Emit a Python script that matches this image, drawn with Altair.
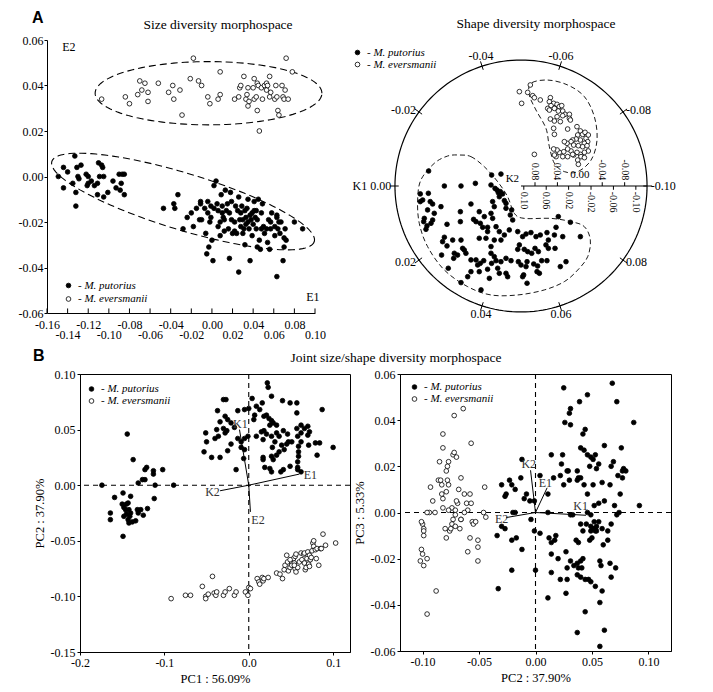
import altair as alt
import numpy as np
import pandas as pd

SERIF = "Liberation Serif"
SANS = "Liberation Sans"
SPECIES = ["M. putorius", "M. eversmanii"]

# ---------------- A (left): size diversity morphospace, E1 x E2 ----------------
SIZE_PUTORIUS = [
    (-0.149, 0.000), (-0.144, 0.004), (-0.144, -0.005), (-0.140, 0.002), (-0.135, -0.003),
    (-0.133, 0.009), (-0.132, -0.007), (-0.131, 0.004), (-0.130, 0.000), (-0.129, -0.001),
    (-0.127, 0.005), (-0.122, 0.001), (-0.121, -0.004), (-0.120, 0.000), (-0.120, -0.003),
    (-0.117, -0.002), (-0.114, -0.004), (-0.111, -0.003), (-0.110, 0.006), (-0.109, 0.000),
    (-0.111, -0.008), (-0.107, 0.005), (-0.106, 0.004), (-0.105, 0.000), (-0.105, -0.009),
    (-0.101, -0.007), (-0.096, -0.002), (-0.093, -0.005), (-0.090, 0.001), (-0.089, -0.006),
    (-0.088, -0.003), (-0.087, 0.001), (-0.085, 0.001), (-0.085, -0.008), (-0.132, -0.013),
    (-0.047, -0.014), (-0.037, -0.012), (-0.036, -0.014), (-0.033, -0.008), (-0.028, -0.023),
    (-0.024, -0.018), (-0.020, -0.016), (-0.018, -0.022), (-0.015, -0.014), (-0.012, -0.019),
    (-0.011, -0.011), (-0.011, -0.012), (-0.010, -0.019), (-0.007, -0.014), (-0.006, -0.025),
    (-0.005, -0.034), (-0.004, -0.011), (-0.004, -0.016), (-0.003, -0.031), (-0.002, -0.020),
    (-0.001, -0.013), (-0.001, -0.018), (0.000, -0.028), (0.001, -0.037), (0.002, -0.004),
    (0.002, -0.014), (0.004, -0.002), (0.005, -0.012), (0.006, -0.015), (0.006, -0.022),
    (0.008, -0.020), (0.008, -0.026), (0.009, -0.008), (0.010, -0.016), (0.010, -0.013),
    (0.011, -0.018), (0.012, -0.024), (0.012, -0.019), (0.013, -0.006), (0.014, -0.015),
    (0.015, -0.012), (0.016, -0.023), (0.017, -0.036), (0.017, -0.016), (0.018, -0.007),
    (0.019, -0.011), (0.019, -0.019), (0.020, -0.025), (0.022, -0.020), (0.022, -0.024),
    (0.023, -0.013), (0.024, -0.025), (0.025, -0.015), (0.026, -0.042), (0.026, -0.009),
    (0.027, -0.019), (0.028, -0.016), (0.028, -0.022), (0.029, -0.013), (0.030, -0.025),
    (0.030, -0.019), (0.031, -0.023), (0.032, -0.015), (0.032, -0.030), (0.033, -0.021),
    (0.033, -0.018), (0.034, -0.014), (0.035, -0.010), (0.035, -0.020), (0.036, -0.023),
    (0.037, -0.017), (0.037, -0.037), (0.038, -0.019), (0.039, -0.016), (0.039, -0.026),
    (0.040, -0.021), (0.041, -0.011), (0.041, -0.015), (0.042, -0.018), (0.043, -0.023),
    (0.043, -0.015), (0.044, -0.019), (0.044, -0.031), (0.045, -0.010), (0.046, -0.028),
    (0.047, -0.032), (0.048, -0.023), (0.048, -0.016), (0.049, -0.012), (0.050, -0.022),
    (0.051, -0.025), (0.053, -0.023), (0.054, -0.029), (0.055, -0.019), (0.056, -0.032),
    (0.057, -0.020), (0.057, -0.023), (0.058, -0.016), (0.061, -0.022), (0.061, -0.026),
    (0.063, -0.018), (0.063, -0.017), (0.064, -0.023), (0.065, -0.020), (0.066, -0.025),
    (0.067, -0.020), (0.069, -0.037), (0.070, -0.027), (0.070, -0.031), (0.071, -0.023),
    (0.072, -0.028), (0.063, -0.044), (0.080, -0.020), (0.088, -0.023),
]
SIZE_EVERSMANII = [
    (-0.107, 0.034), (-0.084, 0.035), (-0.080, 0.032), (-0.072, 0.036), (-0.070, 0.042),
    (-0.065, 0.041), (-0.068, 0.038), (-0.062, 0.037), (-0.062, 0.033), (-0.052, 0.041),
    (-0.042, 0.037), (-0.038, 0.040), (-0.037, 0.034), (-0.031, 0.038), (-0.029, 0.027),
    (-0.021, 0.043), (-0.018, 0.052), (-0.013, 0.042), (-0.010, 0.040), (-0.004, 0.035),
    (-0.002, 0.032), (0.006, 0.034), (0.008, 0.046), (0.008, 0.036), (0.022, 0.034),
    (0.026, 0.035), (0.027, 0.039), (0.028, 0.040), (0.031, 0.044), (0.033, 0.034),
    (0.034, 0.036), (0.035, 0.039), (0.035, 0.031), (0.036, 0.033), (0.040, 0.039),
    (0.041, 0.043), (0.041, 0.034), (0.043, 0.035), (0.044, 0.041), (0.045, 0.040),
    (0.048, 0.039), (0.049, 0.034), (0.051, 0.040), (0.053, 0.041), (0.053, 0.038),
    (0.054, 0.040), (0.056, 0.044), (0.056, 0.035), (0.057, 0.037), (0.061, 0.034),
    (0.062, 0.040), (0.063, 0.035), (0.064, 0.029), (0.065, 0.027), (0.069, 0.035),
    (0.070, 0.034), (0.071, 0.038), (0.072, 0.052), (0.074, 0.034), (0.078, 0.046),
    (0.046, 0.020), (0.044, 0.029), (0.068, 0.040),
]
SIZE_TICKS_E1 = [-0.16, -0.14, -0.12, -0.10, -0.08, -0.06, -0.04, -0.02, 0.00, 0.02, 0.04, 0.06, 0.08, 0.10]
SIZE_TICKS_E2 = [-0.06, -0.04, -0.02, 0.00, 0.02, 0.04, 0.06]
# 95% ellipses: centre and the two half-axis vectors (E1, E2 units)
ELLIPSE_CENTER = {"M. putorius": (-0.028, -0.011), "M. eversmanii": (-0.0033, 0.0366)}
ELLIPSE_AXIS_A = {"M. putorius": (0.1273, -0.0176), "M. eversmanii": (0.110, 0.0)}
ELLIPSE_AXIS_B = {"M. putorius": (-0.0080, -0.0119), "M. eversmanii": (0.0, 0.0139)}

# ---------------- A (right): shape diversity morphospace (K1 angle, K2 radius) ----------------
# positions on the unit disc of the circular plot (disc radius = 1)
SHAPE_PUTORIUS = [
    (-0.733, 0.119), (-0.799, -0.063), (-0.799, -0.124), (-0.780, -0.111), (-0.735, -0.058),
    (-0.720, -0.124), (-0.701, -0.143), (-0.741, -0.190), (-0.767, -0.257), (-0.772, -0.283),
    (-0.746, -0.317), (-0.714, -0.296), (-0.701, -0.270), (-0.754, -0.344), (-0.608, 0.000),
    (-0.476, 0.000), (-0.362, 0.021), (-0.233, 0.087), (-0.159, 0.095), (-0.238, 0.008),
    (-0.206, -0.019), (-0.190, -0.032), (-0.180, -0.053), (-0.164, -0.045), (-0.146, -0.063),
    (-0.172, -0.085), (-0.132, -0.116), (-0.119, -0.138), (-0.119, -0.177), (-0.074, -0.190),
    (-0.085, -0.230), (-0.066, -0.270), (-0.225, -0.124), (-0.212, -0.164), (-0.238, -0.217),
    (-0.225, -0.257), (-0.291, -0.243), (-0.331, -0.204), (-0.376, -0.265), (-0.357, -0.283),
    (-0.323, -0.296), (-0.304, -0.328), (-0.265, -0.328), (-0.265, -0.362), (-0.198, -0.323),
    (-0.172, -0.362), (-0.132, -0.389), (-0.093, -0.349), (-0.159, -0.429), (-0.212, -0.429),
    (-0.238, -0.481), (-0.278, -0.415), (-0.331, -0.415), (-0.397, -0.143), (-0.481, -0.204),
    (-0.481, -0.283), (-0.587, -0.304), (-0.635, -0.164), (-0.688, -0.217), (-0.608, -0.407),
    (-0.622, -0.442), (-0.587, -0.476), (-0.542, -0.429), (-0.476, -0.429), (-0.463, -0.495),
    (-0.450, -0.508), (-0.529, -0.534), (-0.503, -0.548), (-0.534, -0.574), (-0.630, -0.548),
    (-0.437, -0.534), (-0.397, -0.587), (-0.357, -0.587), (-0.323, -0.614), (-0.296, -0.593),
    (-0.344, -0.627), (-0.397, -0.680), (-0.331, -0.680), (-0.238, -0.534), (-0.212, -0.561),
    (-0.198, -0.593), (-0.233, -0.614), (-0.159, -0.601), (-0.119, -0.574), (-0.079, -0.593),
    (-0.119, -0.693), (-0.106, -0.720), (-0.172, -0.693), (-0.185, -0.653), (-0.265, -0.661),
    (-0.251, -0.733), (-0.423, -0.720), (-0.476, -0.767), (-0.577, -0.653), (-0.317, -0.825),
    (0.296, -0.243), (0.392, -0.288), (0.471, -0.402), (0.278, -0.328), (0.265, -0.389),
    (0.331, -0.402), (0.206, -0.370), (0.217, -0.429), (0.153, -0.389), (0.119, -0.402),
    (0.079, -0.370), (0.040, -0.381), (0.013, -0.402), (-0.026, -0.362), (-0.013, -0.468),
    (-0.026, -0.503), (0.026, -0.503), (0.053, -0.521), (0.085, -0.534), (0.111, -0.495),
    (0.138, -0.521), (0.198, -0.468), (0.217, -0.495), (0.270, -0.495), (0.164, -0.593),
    (0.206, -0.593), (0.357, -0.601), (0.312, -0.640), (0.132, -0.635), (0.101, -0.619),
    (0.048, -0.601), (-0.021, -0.601), (0.000, -0.627), (0.040, -0.640), (0.021, -0.706),
    (0.013, -0.720), (0.048, -0.772), (0.127, -0.680), (0.146, -0.693),
]
SHAPE_EVERSMANII = [
    (0.074, 0.802), (-0.013, 0.749), (0.053, 0.743), (0.093, 0.717), (0.106, 0.701),
    (0.153, 0.683), (0.005, 0.656), (0.233, 0.701), (0.225, 0.669), (0.259, 0.656),
    (0.238, 0.638), (0.286, 0.648), (0.304, 0.630), (0.323, 0.638), (0.212, 0.616),
    (0.265, 0.616), (0.296, 0.595), (0.331, 0.595), (0.349, 0.569), (0.384, 0.569),
    (0.331, 0.558), (0.286, 0.550), (0.225, 0.603), (0.233, 0.532), (0.265, 0.516),
    (0.312, 0.511), (0.384, 0.537), (0.392, 0.524), (0.259, 0.458), (0.265, 0.410),
    (0.370, 0.452), (0.444, 0.471), (0.471, 0.437), (0.450, 0.405), (0.489, 0.410),
    (0.508, 0.426), (0.516, 0.378), (0.534, 0.405), (0.529, 0.352), (0.503, 0.339),
    (0.471, 0.365), (0.437, 0.373), (0.410, 0.365), (0.397, 0.352), (0.365, 0.339),
    (0.344, 0.352), (0.418, 0.325), (0.455, 0.320), (0.489, 0.312), (0.524, 0.320),
    (0.534, 0.278), (0.503, 0.267), (0.471, 0.251), (0.444, 0.267), (0.418, 0.246),
    (0.397, 0.278), (0.370, 0.294), (0.339, 0.272), (0.304, 0.267), (0.286, 0.286),
    (0.259, 0.294), (0.278, 0.233), (0.265, 0.246), (0.331, 0.233), (0.370, 0.233),
    (0.410, 0.251), (0.476, 0.233), (0.450, 0.206), (0.503, 0.225), (0.455, 0.172),
    (0.106, 0.251),
]
SHAPE_OUTLINE_PUTORIUS = [
    (-0.489, 0.246), (-0.397, 0.233), (-0.291, 0.153), (-0.185, 0.034), (-0.106, -0.085),
    (-0.053, -0.217), (0.026, -0.257), (0.238, -0.257), (0.397, -0.283), (0.503, -0.323),
    (0.550, -0.429), (0.529, -0.561), (0.450, -0.667), (0.344, -0.759), (0.185, -0.825),
    (-0.026, -0.865), (-0.238, -0.865), (-0.423, -0.799), (-0.608, -0.667), (-0.741, -0.481),
    (-0.807, -0.296), (-0.820, -0.111), (-0.794, 0.048), (-0.688, 0.180), (-0.582, 0.238),
]
SHAPE_OUTLINE_EVERSMANII = [
    (0.079, 0.815), (0.212, 0.841), (0.370, 0.802), (0.503, 0.709), (0.582, 0.550),
    (0.603, 0.365), (0.556, 0.206), (0.450, 0.114), (0.344, 0.114), (0.265, 0.180),
    (0.225, 0.312), (0.198, 0.458), (0.119, 0.603), (0.066, 0.722),
]
K1_VALUES = [0.00, -0.02, -0.04, -0.06, -0.08, -0.10, 0.08, 0.06, 0.04, 0.02]
K1_TEXT = ["K1 0.00", "-0.02", "-0.04", "-0.06", "-0.08", "-0.10", "0.08", "0.06", "0.04", "0.02"]
K2_VALUES = [0.10, 0.08, 0.06, 0.04, 0.02, 0.00, -0.02, -0.04, -0.06, -0.08, -0.10]
K2_TEXT = ["0.10", "0.08", "0.06", "0.04", "0.02", "0.00", "-0.02", "-0.04", "-0.06", "-0.08", "-0.10"]
K2_RANGE = [0.105, -0.12]

# ---------------- B (left): PC1 x PC2 ----------------
PC12_PUTORIUS = [
    (-0.174, 0.000), (-0.159, -0.011), (-0.164, -0.025), (-0.164, -0.031), (-0.149, -0.007),
    (-0.148, -0.020), (-0.146, -0.022), (-0.148, -0.028), (-0.144, 0.046), (-0.143, -0.016),
    (-0.142, -0.022), (-0.145, -0.026), (-0.143, -0.031), (-0.142, -0.034), (-0.141, -0.028),
    (-0.140, -0.010), (-0.137, 0.023), (-0.134, -0.032), (-0.131, 0.002), (-0.131, -0.025),
    (-0.128, -0.022), (-0.126, 0.005), (-0.123, 0.005), (-0.125, -0.027), (-0.120, -0.021),
    (-0.123, 0.014), (-0.121, 0.016), (-0.113, 0.013), (-0.113, 0.010), (-0.112, -0.012),
    (-0.111, 0.000), (-0.102, 0.014), (-0.089, 0.000), (-0.149, -0.046), (-0.150, -0.017),
    (-0.145, -0.017), (-0.140, -0.025), (-0.132, -0.022), (-0.138, -0.033),
    (0.022, 0.092), (0.023, 0.088), (-0.030, 0.077), (-0.027, 0.077), (-0.037, 0.067),
    (-0.013, 0.067), (0.004, 0.078), (0.016, 0.074), (0.027, 0.080), (0.040, 0.076),
    (0.049, 0.074), (0.057, 0.074), (0.087, 0.068), (0.057, 0.065), (-0.005, 0.068),
    (0.000, 0.069), (0.009, 0.071), (0.013, 0.068), (0.007, 0.063), (0.006, 0.059),
    (0.018, 0.062), (0.021, 0.063), (0.024, 0.060), (0.027, 0.058), (0.029, 0.056),
    (0.025, 0.054), (0.033, 0.054), (-0.028, 0.062), (-0.025, 0.059), (-0.034, 0.057),
    (-0.021, 0.056), (-0.017, 0.052), (-0.038, 0.050), (-0.030, 0.051), (-0.026, 0.049),
    (-0.028, 0.047), (-0.036, 0.044), (-0.040, 0.042), (-0.051, 0.047), (-0.050, 0.039),
    (-0.053, 0.030), (-0.044, 0.025), (-0.034, 0.025), (-0.025, 0.031), (-0.021, 0.037),
    (-0.013, 0.042), (-0.009, 0.039), (-0.005, 0.042), (-0.001, 0.044), (-0.009, 0.034),
    (-0.005, 0.032), (-0.006, 0.024), (0.009, 0.044), (0.015, 0.048), (0.018, 0.049),
    (0.021, 0.046), (0.017, 0.041), (0.027, 0.044), (0.033, 0.047), (0.036, 0.044),
    (0.041, 0.049), (0.046, 0.046), (0.047, 0.039), (0.031, 0.039), (0.039, 0.036),
    (0.045, 0.037), (0.028, 0.034), (0.033, 0.027), (0.027, 0.026), (0.017, 0.025),
    (0.017, 0.023), (0.029, 0.023), (0.036, 0.030), (0.042, 0.032), (0.051, 0.039),
    (0.059, 0.035), (0.062, 0.054), (0.066, 0.051), (0.070, 0.053), (0.072, 0.048),
    (0.070, 0.045), (0.062, 0.047), (0.057, 0.051), (0.058, 0.044), (0.062, 0.039),
    (0.071, 0.036), (0.079, 0.038), (0.084, 0.038), (0.081, 0.027), (0.100, 0.034),
    (0.059, 0.030), (0.059, 0.026), (0.058, 0.021), (0.058, 0.016), (0.058, 0.014),
    (0.049, 0.017), (0.041, 0.014), (0.038, 0.012), (0.025, 0.015), (0.027, 0.012),
    (0.019, 0.016), (-0.015, 0.014), (0.062, 0.012),
]
PC12_EVERSMANII = [
    (-0.092, -0.102), (-0.075, -0.099), (-0.069, -0.099), (-0.055, -0.091), (-0.051, -0.100),
    (-0.051, -0.102), (-0.048, -0.098), (-0.043, -0.082), (-0.041, -0.097), (-0.039, -0.099),
    (-0.038, -0.096), (-0.030, -0.099), (-0.028, -0.096), (-0.023, -0.093), (-0.017, -0.099),
    (-0.015, -0.096), (-0.004, -0.096), (-0.001, -0.099), (0.000, -0.092), (0.002, -0.093),
    (0.010, -0.084), (0.012, -0.087), (0.013, -0.089), (0.016, -0.083), (0.017, -0.086),
    (0.018, -0.084), (0.023, -0.083), (0.033, -0.079), (0.037, -0.080), (0.040, -0.084),
    (0.042, -0.076), (0.043, -0.072), (0.046, -0.069), (0.047, -0.077), (0.049, -0.074),
    (0.051, -0.070), (0.051, -0.072), (0.053, -0.066), (0.054, -0.070), (0.055, -0.064),
    (0.055, -0.075), (0.056, -0.078), (0.058, -0.074), (0.060, -0.069), (0.062, -0.061),
    (0.063, -0.067), (0.065, -0.062), (0.066, -0.061), (0.066, -0.070), (0.067, -0.076),
    (0.068, -0.074), (0.069, -0.066), (0.070, -0.060), (0.071, -0.071), (0.072, -0.063),
    (0.072, -0.073), (0.073, -0.067), (0.074, -0.065), (0.075, -0.059), (0.076, -0.052),
    (0.077, -0.055), (0.077, -0.050), (0.079, -0.058), (0.080, -0.066), (0.081, -0.057),
    (0.083, -0.072), (0.085, -0.057), (0.086, -0.057), (0.088, -0.044), (0.091, -0.054),
    (0.103, -0.052), (0.056, -0.062), (0.054, -0.072), (0.045, -0.063), (0.049, -0.067),
]
PC12_LOAD_NAME = ["K1", "K2", "E1", "E2"]
PC12_LOAD_X = [-0.011, -0.034, 0.060, 0.002]
PC12_LOAD_Y = [0.050, -0.005, 0.010, -0.024]
PC12_LABEL_X = [-0.010, -0.043, 0.073, 0.011]
PC12_LABEL_Y = [0.055, -0.006, 0.0096, -0.031]

# ---------------- B (right): PC2 x PC3 ----------------
PC23_PUTORIUS = [
    (0.068, 0.056), (0.025, 0.054), (0.046, 0.051), (0.039, 0.048), (0.072, 0.048),
    (0.031, 0.045), (0.030, 0.043), (0.026, 0.039), (0.031, 0.038), (0.087, 0.039),
    (0.044, 0.036), (0.042, 0.034), (0.040, 0.028), (0.043, 0.027), (0.046, 0.025),
    (0.049, 0.024), (0.051, 0.023), (0.053, 0.025), (0.061, 0.029), (0.076, 0.028),
    (0.014, 0.025), (0.024, 0.025), (0.023, 0.021), (0.029, 0.018), (0.037, 0.018),
    (0.048, 0.020), (0.054, 0.019), (0.056, 0.021), (0.067, 0.020), (0.069, 0.022),
    (0.078, 0.019), (0.080, 0.018), (0.077, 0.018), (0.073, 0.016), (0.038, 0.015),
    (0.040, 0.015), (0.037, 0.014), (0.043, 0.012), (0.051, 0.012), (0.059, 0.013),
    (0.066, 0.012), (0.025, 0.012), (0.022, 0.016), (0.016, 0.015), (-0.012, 0.023),
    (-0.013, 0.015), (-0.023, 0.014), (-0.021, 0.012), (-0.018, 0.010), (-0.030, 0.012),
    (-0.026, 0.008), (-0.027, 0.007), (-0.008, 0.008), (0.004, 0.016), (0.011, 0.008),
    (-0.010, 0.006), (-0.005, 0.005), (-0.001, 0.005), (0.046, 0.008), (0.061, 0.005),
    (0.070, 0.003), (0.075, 0.008), (0.092, 0.003), (0.052, 0.003), (0.056, 0.004),
    (0.077, 0.015), (0.030, 0.014), (0.028, 0.018),
    (-0.020, 0.000), (-0.018, 0.000), (0.011, 0.000), (0.033, -0.001), (0.031, -0.001),
    (0.046, 0.000), (0.049, -0.001), (0.072, -0.001), (0.074, 0.000), (-0.004, -0.003),
    (-0.030, -0.006), (-0.027, -0.007), (-0.034, -0.010), (-0.021, -0.012), (-0.017, -0.011),
    (-0.012, -0.016), (-0.001, -0.008), (0.004, -0.009), (0.012, -0.011), (0.018, -0.010),
    (0.014, -0.013), (0.017, -0.012), (0.036, -0.012), (0.038, -0.013), (0.040, -0.005),
    (0.045, -0.005), (0.049, -0.006), (0.051, -0.007), (0.053, -0.007), (0.054, -0.006),
    (0.056, -0.004), (0.049, -0.008), (0.053, -0.008), (0.054, -0.008), (0.059, -0.007),
    (0.064, -0.008), (0.067, -0.005), (0.064, -0.012), (0.042, -0.008), (0.048, -0.012),
    (0.050, -0.011), (0.060, -0.014), (0.027, -0.017), (0.014, -0.018), (0.020, -0.020),
    (0.031, -0.021), (0.034, -0.023), (0.037, -0.022), (0.040, -0.021), (0.042, -0.020),
    (0.038, -0.024), (0.041, -0.024), (0.057, -0.021), (0.058, -0.023), (0.066, -0.022),
    (0.071, -0.024), (0.067, -0.028), (0.028, -0.024), (0.014, -0.026), (0.022, -0.029),
    (0.028, -0.029), (0.037, -0.027), (0.040, -0.028), (0.044, -0.029), (0.047, -0.029),
    (0.049, -0.030), (0.053, -0.032), (0.059, -0.034), (0.057, -0.039), (0.011, -0.037),
    (0.027, -0.035), (0.044, -0.043), (0.061, -0.051), (0.037, -0.052), (0.057, -0.058),
    (-0.021, -0.025), (-0.033, -0.033), (0.000, -0.025), (0.052, -0.004),
]
PC23_EVERSMANII = [
    (-0.064, 0.045), (-0.072, 0.042), (-0.057, 0.030), (-0.082, 0.034), (-0.082, 0.028),
    (-0.073, 0.025), (-0.072, 0.026), (-0.070, 0.024), (-0.077, 0.022), (-0.078, 0.020),
    (-0.085, 0.022), (-0.079, 0.018), (-0.086, 0.014), (-0.083, 0.012), (-0.084, 0.014),
    (-0.093, 0.011), (-0.091, 0.005), (-0.089, 0.000), (-0.094, 0.000), (-0.096, 0.000),
    (-0.083, 0.008), (-0.078, 0.014), (-0.077, 0.012), (-0.079, 0.009), (-0.082, 0.006),
    (-0.082, 0.002), (-0.074, 0.002), (-0.077, 0.001), (-0.069, 0.004), (-0.063, 0.008),
    (-0.061, 0.004), (-0.060, 0.001), (-0.058, 0.008), (-0.057, 0.004), (-0.066, 0.015),
    (-0.068, 0.010), (-0.070, 0.005), (-0.071, 0.001), (-0.073, -0.003), (-0.074, -0.005),
    (-0.076, -0.008), (-0.079, -0.011), (-0.071, -0.001), (-0.066, -0.003), (-0.063, 0.000),
    (-0.056, -0.004), (-0.055, -0.005), (-0.053, -0.004), (-0.051, -0.012), (-0.058, -0.011),
    (-0.060, -0.017), (-0.051, -0.015), (-0.051, -0.021), (-0.046, 0.000), (-0.045, 0.011),
    (-0.044, -0.002), (-0.100, -0.005), (-0.099, -0.007), (-0.099, -0.008), (-0.101, -0.004),
    (-0.099, -0.010), (-0.101, -0.016), (-0.100, -0.018), (-0.096, -0.020), (-0.102, -0.021),
    (-0.099, -0.023), (-0.088, -0.034), (-0.096, -0.044), (-0.080, -0.007), (-0.075, -0.007),
    (-0.071, -0.006), (-0.066, -0.003), (-0.067, -0.007),
]
PC23_LOAD_NAME = ["K2", "E1", "K1", "E2"]
PC23_LOAD_X = [-0.0044, 0.0103, 0.0447, -0.026]
PC23_LOAD_Y = [0.0183, 0.0107, -0.0012, -0.0022]
PC23_LABEL_X = [-0.006, 0.0088, 0.040, -0.030]
PC23_LABEL_Y = [0.0212, 0.0126, 0.0027, -0.0026]


# ---------------- helpers ----------------
def species_df(put, eve):
    rows = [(x, y, SPECIES[0]) for x, y in put] + [(x, y, SPECIES[1]) for x, y in eve]
    return pd.DataFrame(rows, columns=["x", "y", "species"])


def ax(values, fmt, title=None, **kw):
    opts = dict(values=values, format=fmt, grid=False, labelFont=SERIF, labelFontSize=12,
                labelColor="black", domainColor="black", domainWidth=1, tickColor="black",
                tickSize=3, labelPadding=2, labelOverlap=False, labelFlush=False,
                titleFont=SERIF, titleFontSize=12.5, titleFontWeight="normal", titleColor="black",
                title=title)
    opts.update(kw)
    return alt.Axis(**opts)


def legend_at(x, y, row_pad=0):
    return alt.Legend(orient="none", legendX=x, legendY=y, title=None, padding=0, offset=0,
                      labelExpr="'-  ' + datum.label", labelFont=SERIF, labelFontStyle="italic",
                      labelFontSize=11, labelColor="black", labelOffset=4, symbolType="circle",
                      symbolSize=22, symbolStrokeColor="black", symbolStrokeWidth=0.8,
                      rowPadding=row_pad)


def points(df, xe, ye, legend):
    return alt.Chart(df).mark_point(shape="circle", filled=True, stroke="black", strokeWidth=0.8,
                                    size=22, opacity=1).encode(
        x=xe("x"), y=ye("y"),
        fill=alt.Fill("species:N", scale=alt.Scale(domain=SPECIES, range=["black", "white"]),
                      legend=legend))


ONE = pd.DataFrame({"_": [0]})


def note(text, x, y, size=13.5, font=SERIF, weight="normal", align="center", baseline="middle"):
    return alt.Chart(ONE).mark_text(text=text, font=font, fontSize=size, fontWeight=weight,
                                    align=align, baseline=baseline, color="black").encode(
        x=alt.value(x), y=alt.value(y))


def spacer(x, y):
    return alt.Chart(ONE).mark_point(size=1, opacity=0).encode(x=alt.value(x), y=alt.value(y))


# ---------------- panel A left ----------------
# the panel's group starts where panel B-left starts; the E1 scale reaches 33 px further left
TL_SHIFT = 33
TL_W = 235


def tl_x(f):
    return alt.X(f"{f}:Q", scale=alt.Scale(domain=[-0.16, 0.10], range=[-TL_SHIFT, TL_W], nice=False, zero=False),
                 axis=ax(SIZE_TICKS_E1, ".2f", ticks=False, labelPadding=6, labelLineHeight=10,
                         labelExpr="abs(round(datum.value * 100)) % 4 == 0 ? datum.label : ['', datum.label]"))


def tl_y(f):
    return alt.Y(f"{f}:Q", scale=alt.Scale(domain=[-0.06, 0.06], nice=False, zero=False),
                 axis=ax(SIZE_TICKS_E2, ".2f", labelPadding=1, offset=TL_SHIFT))


ell_frames = []
for sp in SPECIES:
    t = np.linspace(0, 2 * np.pi, 121)
    c, a, b = ELLIPSE_CENTER[sp], ELLIPSE_AXIS_A[sp], ELLIPSE_AXIS_B[sp]
    ell_frames.append(pd.DataFrame({
        "x": c[0] + a[0] * np.cos(t) + b[0] * np.sin(t),
        "y": c[1] + a[1] * np.cos(t) + b[1] * np.sin(t),
        "i": np.arange(len(t)), "grp": sp}))
ellipses = pd.concat(ell_frames)

tick_df = pd.DataFrame({"x": SIZE_TICKS_E1, "y": -0.06, "y2": -0.058})
size_names = pd.DataFrame({"x": [-0.1387, 0.098], "y": [0.0569, -0.053], "t": ["E2", "E1"]})

tl = alt.layer(
    alt.Chart(ellipses).mark_line(color="black", strokeWidth=1.1, strokeDash=[7, 4]).encode(
        x=tl_x("x"), y=tl_y("y"), detail="grp:N", order="i:Q"),
    alt.Chart(tick_df).mark_rule(color="black").encode(x=tl_x("x"), y=tl_y("y"), y2="y2:Q"),
    points(species_df(SIZE_PUTORIUS, SIZE_EVERSMANII), tl_x, tl_y, legend_at(-17, 240, 1.5)),
    alt.Chart(size_names).mark_text(font=SERIF, fontSize=12, color="black").encode(
        x=tl_x("x"), y=tl_y("y"), text="t:N"),
    note("A", -48, -30, size=16, font=SANS, weight="bold", align="left", baseline="top"),
    note("Size diversity morphospace", 138, -15),
    spacer(-66, -20),
).properties(width=TL_W, height=273)


# ---------------- panel A right ----------------
def tr_x(f):
    return alt.X(f"{f}:Q", scale=alt.Scale(domain=[-1.19, 1.19], nice=False, zero=False), axis=None)


def tr_y(f):
    return alt.Y(f"{f}:Q", scale=alt.Scale(domain=[-1.159, 1.159], nice=False, zero=False), axis=None)


def outline_df(pts):
    return pd.DataFrame({"x": [p[0] for p in pts], "y": [p[1] for p in pts], "i": range(len(pts))})


k1 = alt.Chart(pd.DataFrame({"k1": K1_VALUES, "t": K1_TEXT})).transform_calculate(
    ang="(180 + datum.k1 * 1800) * PI / 180",
    c="cos(datum.ang)", s="sin(datum.ang)",
    x="0.97 * datum.c", y="0.97 * datum.s", x2="1.04 * datum.c", y2="1.04 * datum.s",
    lx="1.03 * datum.c", ly="1.03 * datum.s")


def k1_labels(filt, **kw):
    return k1.transform_filter(filt).mark_text(font=SERIF, fontSize=12, color="black", **kw).encode(
        x=tr_x("lx"), y=tr_y("ly"), text="t:N")


k2 = alt.Chart(pd.DataFrame({"k2": K2_VALUES, "t": K2_TEXT})).transform_calculate(
    x=f"({K2_RANGE[0]} - datum.k2) / ({K2_RANGE[0] - K2_RANGE[1]})",
    below="round(abs(datum.k2) * 50) % 2 == 1",
    y="0", y2="datum.below ? -0.03 : 0.03", ly="datum.below ? -0.045 : 0.045")

k2_line = alt.Chart(pd.DataFrame({"k2": K2_RANGE})).transform_calculate(
    x=f"({K2_RANGE[0]} - datum.k2) / ({K2_RANGE[0] - K2_RANGE[1]})", y="0")

tr = alt.layer(
    alt.Chart(alt.sequence(0, 362, 2, as_="deg")).transform_calculate(
        x="cos(datum.deg * PI / 180)", y="sin(datum.deg * PI / 180)").mark_line(
        color="black", strokeWidth=1.2).encode(x=tr_x("x"), y=tr_y("y"), order="deg:Q"),
    k1.mark_rule(color="black").encode(x=tr_x("x"), y=tr_y("y"), x2="x2:Q", y2="y2:Q"),
    k1_labels("datum.c < -0.5", align="right", baseline="middle"),
    k1_labels("datum.c > 0.5", align="left", baseline="middle"),
    k1_labels("abs(datum.c) <= 0.5 && datum.s > 0", align="center", baseline="bottom"),
    k1_labels("abs(datum.c) <= 0.5 && datum.s < 0", align="center", baseline="top"),
    k2_line.mark_line(color="black", strokeWidth=1.2).encode(x=tr_x("x"), y=tr_y("y")),
    k2.mark_rule(color="black").encode(x=tr_x("x"), y=tr_y("y"), y2="y2:Q"),
    k2.transform_filter("datum.below").mark_text(
        font=SERIF, fontSize=10, angle=90, align="left", baseline="middle", color="black").encode(
        x=tr_x("x"), y=tr_y("ly"), text="t:N"),
    k2.transform_filter("!datum.below && datum.k2 != 0").mark_text(
        font=SERIF, fontSize=10, angle=90, align="right", baseline="middle", color="black").encode(
        x=tr_x("x"), y=tr_y("ly"), text="t:N"),
    k2.transform_filter("datum.k2 == 0").mark_text(
        font=SERIF, fontSize=11, align="center", baseline="bottom", color="black").encode(
        x=tr_x("x"), y=tr_y("ly"), text="t:N"),
    alt.Chart(pd.DataFrame({"x": [-0.015], "y": [0.015], "t": ["K2"]})).mark_text(
        font=SERIF, fontSize=11, align="right", baseline="bottom", color="black").encode(
        x=tr_x("x"), y=tr_y("y"), text="t:N"),
    alt.Chart(outline_df(SHAPE_OUTLINE_PUTORIUS)).mark_line(
        color="black", strokeWidth=0.9, strokeDash=[5, 3], interpolate="cardinal-closed").encode(
        x=tr_x("x"), y=tr_y("y"), order="i:Q"),
    alt.Chart(outline_df(SHAPE_OUTLINE_EVERSMANII)).mark_line(
        color="black", strokeWidth=0.9, strokeDash=[5, 3], interpolate="cardinal-closed").encode(
        x=tr_x("x"), y=tr_y("y"), order="i:Q"),
    points(species_df(SHAPE_PUTORIUS, SHAPE_EVERSMANII), tr_x, tr_y, legend_at(-19, 7)),
    note("Shape diversity morphospace", 165, -16),
).properties(width=300, height=292)


# ---------------- panel B ----------------
def pca_panel(put, eve, names, lxs, lys, tx, ty, xdom, ydom, xvals, yvals, xfmt, yfmt,
              xtitle, ytitle, legend, extra, w, h):
    def px(f):
        return alt.X(f"{f}:Q", scale=alt.Scale(domain=xdom, nice=False, zero=False),
                     axis=ax(xvals, xfmt, title=xtitle))

    def py(f):
        return alt.Y(f"{f}:Q", scale=alt.Scale(domain=ydom, nice=False, zero=False),
                     axis=ax(yvals, yfmt, title=ytitle))

    load = pd.DataFrame({"name": names, "x0": 0.0, "y0": 0.0, "x": lxs, "y": lys, "tx": tx, "ty": ty})
    zero = pd.DataFrame({"z": [0.0]})
    layers = [
        alt.Chart(zero).mark_rule(color="black", strokeWidth=1.1, strokeDash=[5, 4]).encode(x=px("z")),
        alt.Chart(zero).mark_rule(color="black", strokeWidth=1.1, strokeDash=[5, 4]).encode(y=py("z")),
        points(species_df(put, eve), px, py, legend),
        alt.Chart(load).mark_rule(color="black", strokeWidth=1).encode(
            x=px("x0"), y=py("y0"), x2="x:Q", y2="y:Q"),
        alt.Chart(load).mark_text(font=SERIF, fontSize=12, color="#333333").encode(
            x=px("tx"), y=py("ty"), text="name:N"),
    ] + extra
    return alt.layer(*layers).properties(
        width=w, height=h, view=alt.ViewBackground(stroke="black", strokeWidth=1))


bl = pca_panel(PC12_PUTORIUS, PC12_EVERSMANII, PC12_LOAD_NAME, PC12_LOAD_X, PC12_LOAD_Y,
               PC12_LABEL_X, PC12_LABEL_Y, [-0.2, 0.12], [-0.15, 0.10],
               [-0.2, -0.1, 0.0, 0.1], [-0.15, -0.10, -0.05, 0.00, 0.05, 0.10], ".1f", ".2f",
               "PC1 : 56.09%", "PC2 : 37.90%", legend_at(6, 9.5),
               [note("B", -47, -13, size=16, font=SANS, weight="bold", align="left", baseline="alphabetic"),
                note("Joint size/shape diversity morphospace", 316, -16),
                spacer(-66, -30)], 270, 278)

br = pca_panel(PC23_PUTORIUS, PC23_EVERSMANII, PC23_LOAD_NAME, PC23_LOAD_X, PC23_LOAD_Y,
               PC23_LABEL_X, PC23_LABEL_Y, [-0.12, 0.12], [-0.06, 0.06],
               [-0.10, -0.05, 0.00, 0.05, 0.10], [-0.06, -0.04, -0.02, 0.00, 0.02, 0.04, 0.06],
               ".2f", ".2f", "PC2 : 37.90%", "PC3 : 5.33%", legend_at(9, 7.5), [], 271, 277)

RES = dict(x="independent", y="independent", fill="independent")
row1 = alt.hconcat(tl, tr, spacing=56, bounds="flush").resolve_scale(**RES).resolve_legend(fill="independent")
row2 = alt.hconcat(bl, br, spacing=50, bounds="flush").resolve_scale(**RES).resolve_legend(fill="independent")

chart = alt.vconcat(row1, row2, spacing=3).resolve_scale(**RES).resolve_legend(fill="independent").properties(
    padding={"left": 5, "top": 2, "right": 5, "bottom": 5}
).configure(
    locale=alt.Locale(number=alt.NumberLocale(decimal=".", thousands=",", grouping=[3],
                                              currency=["", ""], minus="-"))
).configure_view(stroke=None)

chart.save("out.html", embed_options={"renderer": "svg", "actions": False})
